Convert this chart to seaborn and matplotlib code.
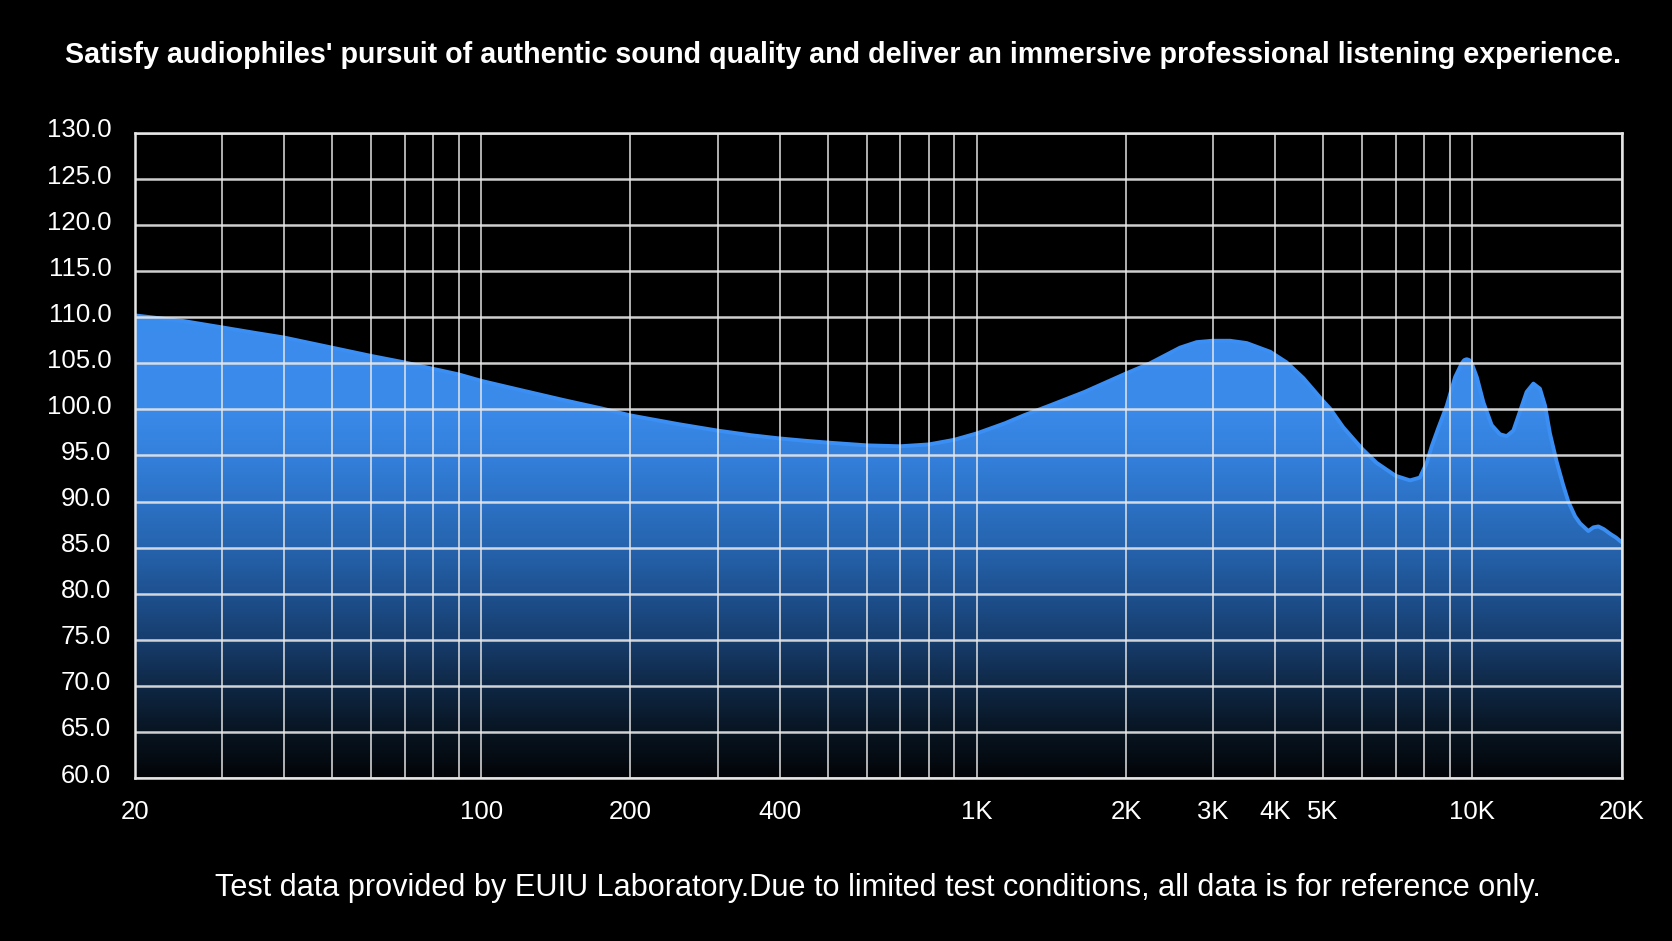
import numpy as np
import pandas as pd
import matplotlib
matplotlib.use("Agg")
import matplotlib.pyplot as plt
import matplotlib.transforms as mtransforms
import seaborn as sns
from matplotlib.colors import LinearSegmentedColormap
from matplotlib.ticker import LogLocator, NullFormatter, FixedLocator

# ---------------- data ----------------
freq_hz = [20, 25, 30, 35, 40, 50, 60, 70, 80, 90, 100, 120, 147, 175, 200, 250,
           300, 350, 400, 450, 500, 600, 700, 800, 900, 1000, 1140, 1250, 1400,
           1650, 2000, 2235, 2570, 2777, 2982, 3243, 3505, 3911, 4220, 4560, 5000,
           5161, 5490, 6007, 6410, 7000, 7484, 7835, 8088, 8280, 8540, 8880, 9230,
           9520, 9630, 9740, 9860, 9970, 10210, 10530, 10940, 11370, 11730, 12100,
           12480, 12870, 13280, 13690, 14020, 14340, 14800, 15250, 15620, 16120,
           16490, 17140, 17550, 17960, 18430, 18970, 19490, 20000]
spl_db = [110.2, 109.6, 108.9, 108.3, 107.8, 106.7, 105.8, 105.1, 104.4, 103.8,
          103.1, 102.1, 101.0, 100.1, 99.35, 98.4, 97.7, 97.2, 96.85, 96.6, 96.4,
          96.1, 96.0, 96.2, 96.7, 97.4, 98.5, 99.4, 100.4, 101.9, 103.9, 105.0,
          106.7, 107.3, 107.45, 107.45, 107.2, 106.25, 105.1, 103.4, 100.9,
          100.1, 98.05, 95.66, 94.2, 92.8, 92.3, 92.6, 94.2, 96.0, 98.0, 100.4,
          103.5, 105.0, 105.35, 105.45, 105.35, 105.0, 103.5, 100.75, 98.3, 97.3,
          97.1, 97.7, 99.8, 101.9, 102.8, 102.25, 100.4, 97.4, 94.3, 91.8, 90.0,
          88.4, 87.65, 86.8, 87.2, 87.3, 87.0, 86.5, 86.1, 85.6]

x_tick_values = [20, 100, 200, 400, 1000, 2000, 3000, 4000, 5000, 10000, 20000]
x_tick_labels = ["20", "100", "200", "400", "1K", "2K", "3K", "4K", "5K", "10K", "20K"]
y_tick_values = list(range(60, 131, 5))
y_tick_labels = [f"{v:.1f}" for v in y_tick_values]

title_text = ("Satisfy audiophiles' pursuit of authentic sound quality and deliver "
              "an immersive professional listening experience.")
footer_text = ("Test data provided by EUIU Laboratory.Due to limited test conditions, "
               "all data is for reference only.")

df = pd.DataFrame({"freq": freq_hz, "spl": spl_db})

# ---------------- style ----------------
sns.set_theme(style="dark")
plt.rcParams["font.family"] = ["Liberation Sans", "DejaVu Sans"]
plt.rcParams["axes.facecolor"] = "black"
plt.rcParams["figure.facecolor"] = "black"

fig = plt.figure(figsize=(16.72, 9.41), dpi=100)
ax = fig.add_axes([0.0807, 0.1732, 0.8891, 0.6855])
ax.set_facecolor("black")

ax.set_xscale("log")
ax.set_xlim(20, 20000)
ax.set_ylim(60, 130)

# gradient fill clipped to the area under the curve
fill = ax.fill_between(df["freq"], df["spl"], 60, color="none", lw=0, zorder=1)
grad_stops = [(0.0, "#030508"), (5 / 70, "#081522"), (10 / 70, "#0f2846"),
              (15 / 70, "#173e6e"), (20 / 70, "#1e5190"), (25 / 70, "#2664ae"),
              (30 / 70, "#2c72c6"), (35 / 70, "#3480dc"), (40 / 70, "#3a8aea"),
              (1.0, "#3d91f3")]
cmap = LinearSegmentedColormap.from_list("fr", grad_stops)
grad = np.linspace(0, 1, 512).reshape(-1, 1)
img = ax.imshow(grad, cmap=cmap, origin="lower", aspect="auto",
                extent=[0, 1, 0, 1], transform=ax.transAxes, zorder=1,
                interpolation="bilinear")
img.set_clip_path(fill.get_paths()[0], transform=ax.transData)

sns.lineplot(data=df, x="freq", y="spl", ax=ax, color="#3b8ff4", lw=2.8,
             zorder=2, legend=False)
ax.lines[-1].set_solid_joinstyle("round")

# ticks & grid
ax.xaxis.set_major_locator(FixedLocator(x_tick_values))
ax.set_xticklabels(x_tick_labels)
ax.xaxis.set_minor_locator(LogLocator(base=10, subs=np.arange(2, 10)))
ax.xaxis.set_minor_formatter(NullFormatter())
ax.set_yticks(y_tick_values)
ax.set_yticklabels(y_tick_labels)

ax.grid(which="both", axis="x", color="#e6e6e6", lw=1.2, alpha=0.9, zorder=3)
ax.grid(which="major", axis="y", color="#e6e6e6", lw=1.8, alpha=0.9, zorder=3)
ax.set_axisbelow(False)

ax.tick_params(axis="both", which="both", length=0, colors="white")
ax.tick_params(axis="y", labelsize=18.5, pad=17)
ax.tick_params(axis="x", labelsize=18.5, pad=16)
ax.set_xlabel("")
ax.set_ylabel("")

up = mtransforms.ScaledTranslation(0, 5 / 100, fig.dpi_scale_trans)
for lab in ax.get_yticklabels():
    lab.set_transform(lab.get_transform() + up)

for s in ax.spines.values():
    s.set_color("#e6e6e6")
    s.set_linewidth(1.8)
    s.set_visible(True)

fig.text(0.5045, 1 - 55 / 941, title_text, color="white", fontsize=20.6,
         fontweight="bold", ha="center", va="center")
fig.text(0.5251, 1 - 888 / 941, footer_text, color="white", fontsize=22.1,
         ha="center", va="center")

fig.savefig("out.png", dpi=100, facecolor="black")
